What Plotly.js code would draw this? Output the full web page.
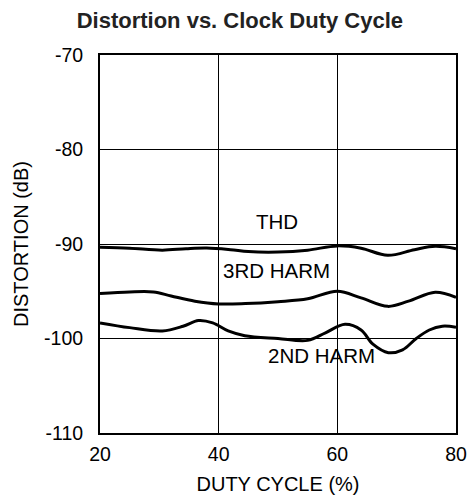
<!DOCTYPE html>
<html>
<head>
<meta charset="utf-8">
<script src="https://cdn.plot.ly/plotly-3.0.1.min.js"></script>
<style>html,body{margin:0;padding:0;background:#fff;}#chart{width:475px;height:502px;}</style>
</head>
<body>
<div id="chart"></div>
<script>
// Duty cycle (%) sample points and distortion (dB)
const thdDuty = [20, 25, 30.5, 34.5, 38, 42, 45, 50, 55, 60, 64, 68.5, 73, 76.5, 80];
const thdDb   = [-90.35, -90.45, -90.65, -90.5, -90.43, -90.6, -90.8, -90.85, -90.65, -90.2, -90.45, -91.2, -90.6, -90.25, -90.5];

const h3Duty = [20, 25, 29, 32, 36, 40, 44.5, 50, 55, 60, 64, 68.5, 72, 76.5, 80];
const h3Db   = [-95.25, -95.07, -95.07, -95.5, -96.05, -96.34, -96.3, -96.1, -95.8, -95.0, -95.7, -96.6, -96.05, -95.1, -95.65];

const h2Duty = [20, 25, 30.5, 34, 36.6, 39, 41.6, 44.4, 50, 55, 58, 61.3, 64, 66, 68.6, 71, 73.3, 75.5, 77.7, 80];
const h2Db   = [-98.35, -98.85, -99.2, -98.7, -98.1, -98.35, -99.2, -99.7, -100.0, -100.2, -99.4, -98.5, -99.1, -100.6, -101.5, -101.2, -100.0, -99.1, -98.7, -98.8];

const labelText = ["THD", "3RD HARM", "2ND HARM"];
const labelDuty = [49.9, 49.7, 57.3];
const labelDb   = [-87.65, -92.8, -101.8];

const xTicks = [20, 40, 60, 80];
const yTicks = [-110, -100, -90, -80, -70];

const FONT = "Liberation Sans, Arial, Helvetica, sans-serif";

function curve(x, y, name) {
  return {x: x, y: y, name: name, type: 'scatter', mode: 'lines',
          line: {color: '#000', width: 3, shape: 'spline', smoothing: 1},
          hoverinfo: 'skip', showlegend: false};
}

const data = [
  curve(thdDuty, thdDb, 'THD'),
  curve(h3Duty, h3Db, '3RD HARM'),
  curve(h2Duty, h2Db, '2ND HARM')
];

const annotations = labelText.map((t, i) => ({
  x: labelDuty[i], y: labelDb[i], xref: 'x', yref: 'y', text: t,
  showarrow: false, font: {family: FONT, size: 20.5, color: '#000'},
  xanchor: 'center', yanchor: 'middle', bgcolor: 'rgba(0,0,0,0)'
}));

const layout = {
  width: 475, height: 502,
  margin: {l: 100, r: 19, t: 55, b: 69, pad: 0},
  paper_bgcolor: '#fff', plot_bgcolor: '#fff',
  font: {family: FONT, size: 19, color: '#000'},
  title: {text: '<b>Distortion vs. Clock Duty Cycle</b>', x: 0.505, xref: 'container', xanchor: 'center',
          y: 1 - 20/502, yref: 'container', yanchor: 'middle',
          font: {family: FONT, size: 22, color: '#222'}},
  xaxis: {
    range: [20, 80], tickvals: xTicks, ticktext: xTicks.map(String),
    showgrid: true, gridcolor: '#000', gridwidth: 1,
    showline: true, linecolor: '#000', linewidth: 2, mirror: true,
    ticks: '', ticklabelstandoff: 3, zeroline: false, fixedrange: true,
    tickfont: {family: FONT, size: 19.5, color: '#000'},
    title: {text: 'DUTY CYCLE (%)', standoff: 13, font: {family: FONT, size: 20, color: '#000'}}
  },
  yaxis: {
    range: [-110, -70], tickvals: yTicks, ticktext: yTicks.map(String),
    showgrid: true, gridcolor: '#000', gridwidth: 1,
    showline: true, linecolor: '#000', linewidth: 2, mirror: true,
    ticks: '', ticklabelstandoff: 11, zeroline: false, fixedrange: true,
    tickfont: {family: FONT, size: 19.5, color: '#000'},
    title: {text: 'DISTORTION (dB)', standoff: 10, font: {family: FONT, size: 20, color: '#000'}}
  },
  annotations: annotations
};

Plotly.newPlot('chart', data, layout, {displayModeBar: false, staticPlot: true});
</script>
</body>
</html>
